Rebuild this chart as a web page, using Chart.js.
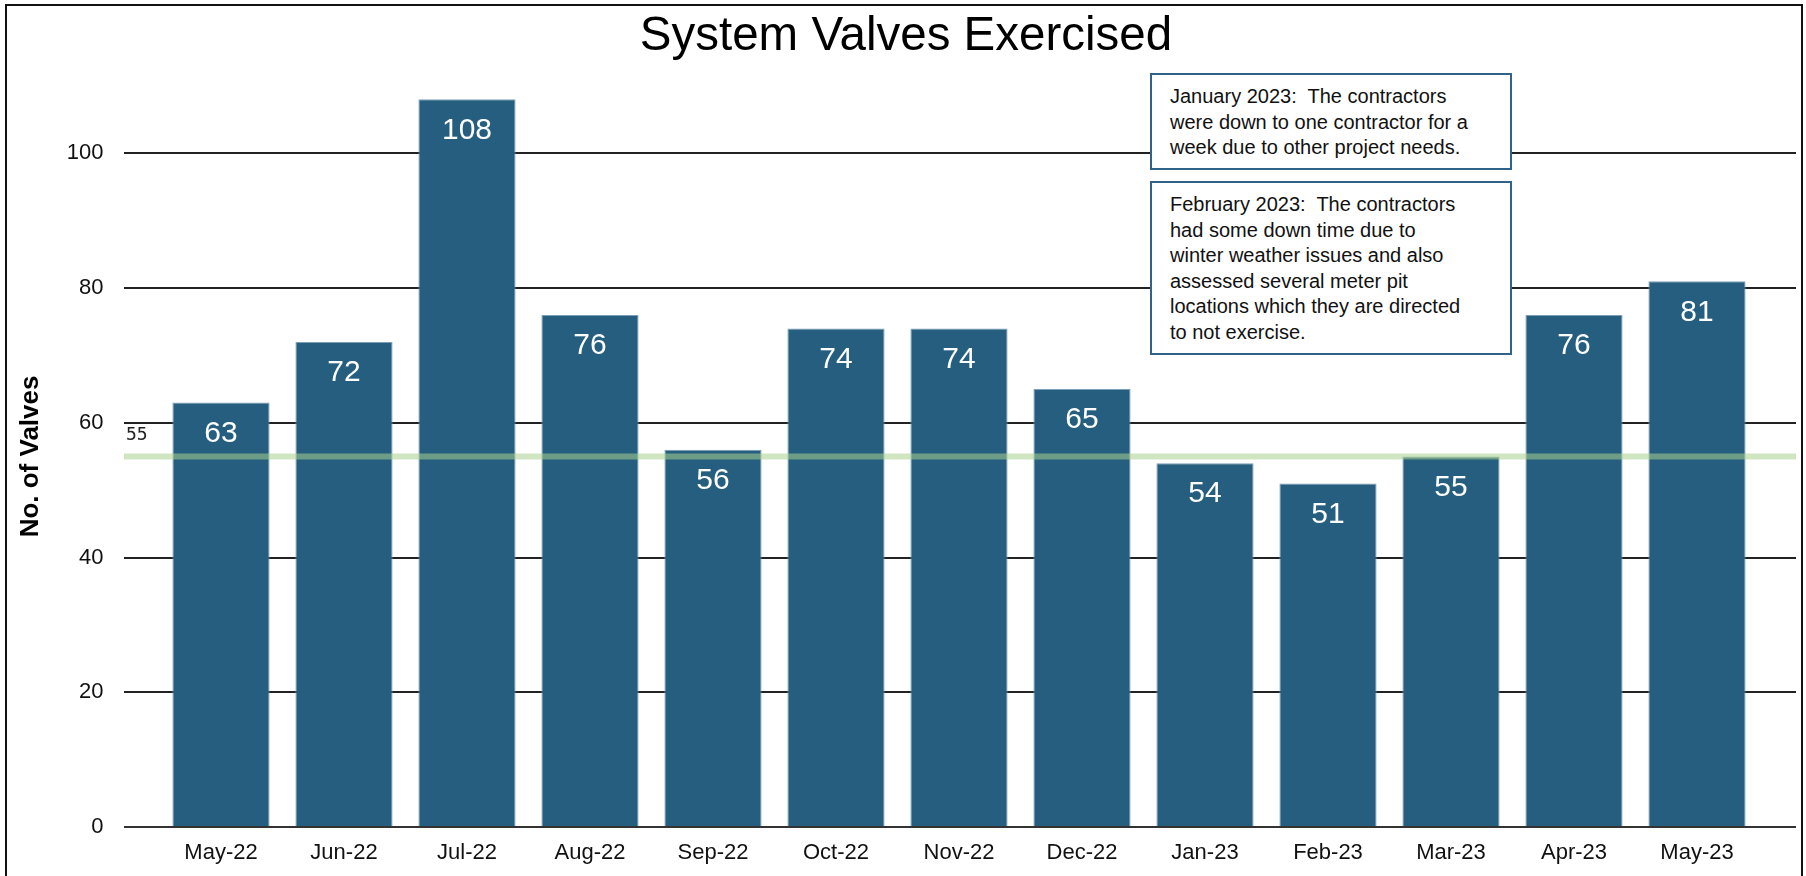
<!DOCTYPE html>
<html>
<head>
<meta charset="utf-8">
<title>System Valves Exercised</title>
<script src="https://cdn.jsdelivr.net/npm/chart.js@4.4.0/dist/chart.umd.min.js"></script>
<style>
  body { margin: 0; background: #fff; }
  #wrap { position: relative; width: 1806px; height: 876px; overflow: hidden; }
  #chart { position: absolute; left: 0; top: 0; }
  .frame {
    position: absolute; left: 5px; top: 4px; width: 1798px; height: 900px;
    border: 2px solid #111; box-sizing: border-box; pointer-events: none;
  }
  .note {
    position: absolute; left: 1150px; width: 362px; box-sizing: border-box;
    background: #fff; border: 2px solid #2f6389;
    padding: 9px 0 0 18px; white-space: pre;
    font: 20px/25.5px 'Liberation Sans', Arial, sans-serif; color: #111;
  }
</style>
</head>
<body>
<div id="wrap">
  <canvas id="chart" width="1806" height="876"></canvas>
  <div class="frame"></div>
  <div class="note" id="note1" style="top:73px; height:97px;"></div>
  <div class="note" id="note2" style="top:181px; height:174px;"></div>
</div>
<script>
const months = ['May-22', 'Jun-22', 'Jul-22', 'Aug-22', 'Sep-22', 'Oct-22', 'Nov-22',
                'Dec-22', 'Jan-23', 'Feb-23', 'Mar-23', 'Apr-23', 'May-23'];
const valves = [63, 72, 108, 76, 56, 74, 74, 65, 54, 51, 55, 76, 81];
const yTicks = [0, 20, 40, 60, 80, 100];
const target = 55;

const note1 = ['January 2023:  The contractors',
               'were down to one contractor for a',
               'week due to other project needs.'];
const note2 = ['February 2023:  The contractors',
               'had some down time due to',
               'winter weather issues and also',
               'assessed several meter pit',
               'locations which they are directed',
               'to not exercise.'];

document.getElementById('note1').textContent = note1.join('\n');
document.getElementById('note2').textContent = note2.join('\n');

const FONT = "'Liberation Sans', Arial, sans-serif";
Chart.defaults.font.family = FONT;
Chart.defaults.color = '#111';

// gridlines run a bit past the category area on both sides
const EXT_L = 35.5, EXT_R = 37.5;

const gridPlugin = {
  id: 'grid',
  beforeDatasetsDraw(chart) {
    const { ctx, chartArea, scales: { y } } = chart;
    ctx.save();
    ctx.strokeStyle = '#222';
    ctx.lineWidth = 2;
    y.ticks.forEach(t => {
      const py = Math.round(y.getPixelForValue(t.value));
      ctx.beginPath();
      ctx.moveTo(chartArea.left - EXT_L, py);
      ctx.lineTo(chartArea.right + EXT_R, py);
      ctx.stroke();
    });
    ctx.restore();
  },
  afterDatasetsDraw(chart) {
    const { ctx, chartArea, scales: { y } } = chart;
    ctx.save();
    // zero line on top of the bar bottoms
    const y0 = Math.round(y.getPixelForValue(0));
    ctx.strokeStyle = '#333';
    ctx.lineWidth = 2;
    ctx.beginPath();
    ctx.moveTo(chartArea.left - EXT_L, y0);
    ctx.lineTo(chartArea.right + EXT_R, y0);
    ctx.stroke();

    // target line
    const yt = y.getPixelForValue(target);
    ctx.strokeStyle = 'rgba(169,209,142,0.55)';
    ctx.lineWidth = 6;
    ctx.beginPath();
    ctx.moveTo(chartArea.left - EXT_L, yt);
    ctx.lineTo(chartArea.right + EXT_R, yt);
    ctx.stroke();
    ctx.fillStyle = '#222';
    ctx.font = "18px 'DejaVu Sans Mono', monospace";
    ctx.textAlign = 'left';
    ctx.textBaseline = 'alphabetic';
    ctx.fillText(String(target), chartArea.left - EXT_L + 2, yt - 16);

    // value labels inside bar tops
    const meta = chart.getDatasetMeta(0);
    ctx.fillStyle = '#fff';
    ctx.font = '30px ' + FONT;
    ctx.textAlign = 'center';
    ctx.textBaseline = 'middle';
    meta.data.forEach((bar, i) => {
      ctx.fillText(String(valves[i]), bar.x, bar.y + 31);
    });
    ctx.restore();
  }
};

new Chart(document.getElementById('chart'), {
  type: 'bar',
  data: {
    labels: months,
    datasets: [{
      data: valves,
      backgroundColor: '#255e7e',
      borderColor: '#7d9fb7',
      borderWidth: 1,
      borderSkipped: 'bottom',
      categoryPercentage: 0.79,
      barPercentage: 1
    }]
  },
  options: {
    responsive: false,
    animation: false,
    devicePixelRatio: 1,
    layout: { padding: { left: 10, right: 4, top: 0, bottom: 11.6 } },
    plugins: {
      legend: { display: false },
      tooltip: { enabled: false },
      title: {
        display: true,
        text: 'System Valves Exercised',
        color: '#000',
        font: { size: 47.5, weight: 'normal' },
        padding: { top: 8.3, bottom: 20.6 }
      }
    },
    scales: {
      x: {
        grid: { display: false, drawTicks: false },
        border: { display: false },
        ticks: { font: { size: 22 }, color: '#111', padding: 13, maxRotation: 0 },
        afterFit: s => { s.height = 37.4; }
      },
      y: {
        min: 0,
        max: 110,
        grid: { display: false, drawTicks: false },
        border: { display: false },
        ticks: { font: { size: 22 }, color: '#111', padding: 56 },
        afterBuildTicks: s => { s.ticks = yTicks.map(v => ({ value: v })); },
        afterFit: s => { s.width = 149.5; s.paddingTop = 0; s.paddingBottom = 0; },
        title: {
          display: true,
          text: 'No. of Valves',
          color: '#000',
          font: { size: 26, weight: 'bold' },
          padding: { top: 5, bottom: 0 }
        }
      },
      yRight: {
        position: 'right',
        grid: { display: false, drawTicks: false },
        border: { display: false },
        ticks: { display: false },
        afterFit: s => { s.width = 43.5; s.paddingTop = 0; s.paddingBottom = 0; }
      }
    }
  },
  plugins: [gridPlugin]
});
</script>
</body>
</html>
